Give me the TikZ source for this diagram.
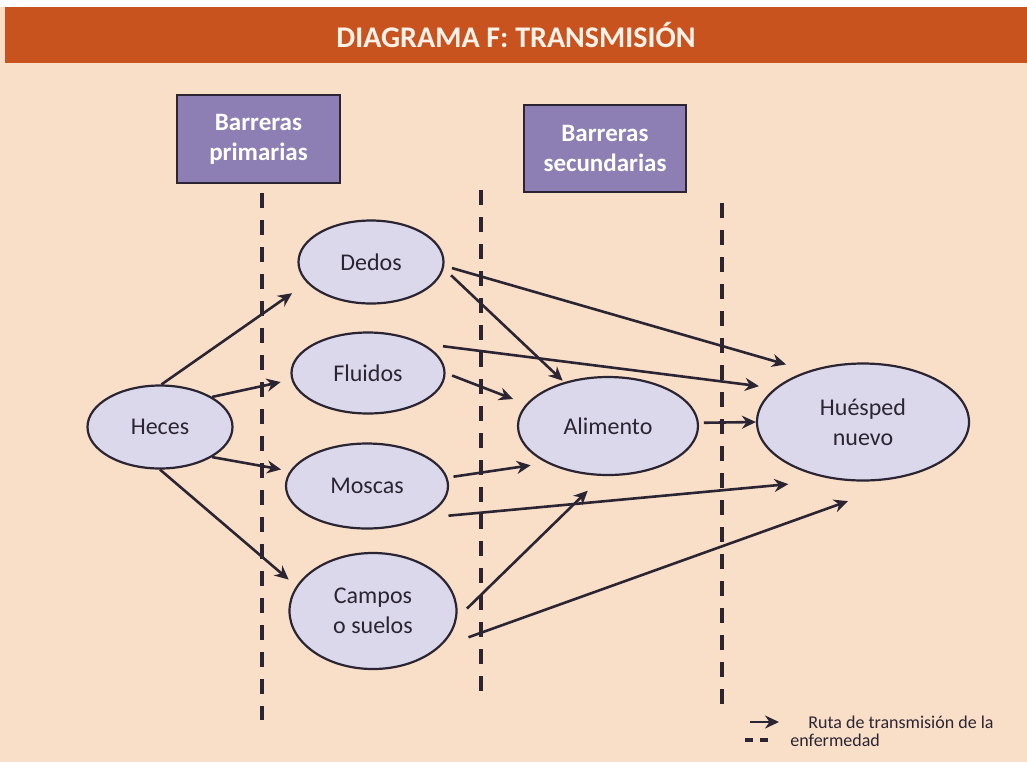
\documentclass[tikz,border=0pt]{standalone}
\usepackage{fontspec}
\setmainfont{Carlito}
\usetikzlibrary{shapes.geometric,arrows.meta,positioning}
\definecolor{peach}{HTML}{F9DFC8}
\definecolor{rust}{HTML}{C9531E}
\definecolor{lilac}{HTML}{DCD8EC}
\definecolor{plum}{HTML}{8D7FB3}
\definecolor{ink}{HTML}{2B2533}
\tikzset
{
    spot/.style    = {ellipse, draw=ink, line width=1.1pt, fill=lilac, inner sep=1pt, align=center, text=ink, font=\fontsize{12}{15}\selectfont},
    barrier/.style = {rectangle, draw=ink, line width=1.3pt, fill=plum, align=center, text=white, font=\bfseries\fontsize{12.5}{15}\selectfont},
    route/.style   = {->, draw=ink, line width=1.3pt},
    wall/.style    = {draw=ink, line width=1.6pt, dash pattern=on 7.5pt off 6pt}
}

\begin{document}
\begin{tikzpicture}[>={Stealth[length=7pt,width=6.5pt]}, x=0.5pt, y=-0.5pt]
    \useasboundingbox (0,0) rectangle (1027,762);
    \fill[white] (0,0) rectangle (1027,762);
    \fill[peach] (0,7) rectangle (1027,762);
    \fill[rust] (5,7) rectangle (1027,63);
    \node [font=\bfseries\fontsize{15}{18}\selectfont, text=peach!40] (title) at (516,35) {DIAGRAMA F: TRANSMISIÓN};

    \node [barrier, minimum width=81.5pt, minimum height=44pt] (primarias) at (258.5,139) {Barreras\\primarias};
    \node [barrier, minimum width=81pt, minimum height=43.5pt] (secundarias) at (605,148.5) {Barreras\\secundarias};

    \draw [wall] (262,193) -- (262,720);
    \draw [wall] (481,190) -- (481,700);
    \draw [wall] (722,203) -- (722,705);

    \node [spot, minimum width=72.5pt, minimum height=41.5pt] (heces) at (160,427) {Heces};
    \node [spot, minimum width=72.5pt, minimum height=41.5pt] (dedos) at (371,262) {Dedos};
    \node [spot, minimum width=76.5pt, minimum height=40.5pt] (fluidos) at (368,373) {Fluidos};
    \node [spot, minimum width=81pt, minimum height=42.5pt] (moscas) at (367,486) {Moscas};
    \node [spot, minimum width=83.5pt, minimum height=58pt] (campos) at (373,611) {Campos\\o suelos};
    \node [spot, minimum width=90pt, minimum height=49pt] (alimento) at (608,426) {Alimento};
    \node [spot, minimum width=106pt, minimum height=58.5pt] (huesped) at (863,422) {Huésped\\nuevo};

    \draw [route, shorten >=9pt] (heces.88) -- (dedos.198);
    \draw [route, shorten >=5.5pt] (heces.30) -- (fluidos.185);
    \draw [route, shorten >=4.5pt] (heces.-30) -- (moscas.169);
    \draw [route, shorten >=5pt] (heces.270) -- (campos.162);

    \draw [route, shorten <=4pt, shorten >=11.5pt] (dedos.-3) -- (huesped.137);
    \draw [route, shorten <=5pt, shorten >=1pt] (dedos.-5) -- (alimento.135);
    \draw [route, shorten <=10pt, shorten >=8pt] (fluidos.28) -- (huesped.159);
    \draw [route, shorten <=3.5pt, shorten >=7pt] (fluidos.0) -- (alimento.165);
    \draw [route, shorten <=2.5pt] (alimento.2) -- (huesped.180);
    \draw [route, shorten <=3pt, shorten >=8pt] (moscas.6) -- (alimento.211);
    \draw [route, shorten <=13pt, shorten >=24pt] (moscas.-30) -- (huesped.245);
    \draw [route, shorten <=7pt, shorten >=10.5pt] (campos.-5) -- (alimento.264);
    \draw [route, shorten <=15.5pt] (campos.-29) -- ([xshift=-7.5pt,yshift=-9.75pt]huesped.south);

    \coordinate (keytail) at (750,722);
    \coordinate (keyhead) at (779,722);
    \draw [route] (keytail) -- (keyhead);
    \draw [wall, dash pattern=on 4pt off 3.5pt] (745,740) -- (768,740);
    \node [anchor=west, inner sep=0pt, text=ink, font=\fontsize{9}{11}\selectfont] (ruta) at (808,722) {Ruta de transmisión de la};
    \node [anchor=west, inner sep=0pt, text=ink, font=\fontsize{9}{11}\selectfont] (enfermedad) at (790,740) {enfermedad};
\end{tikzpicture}
\end{document}
